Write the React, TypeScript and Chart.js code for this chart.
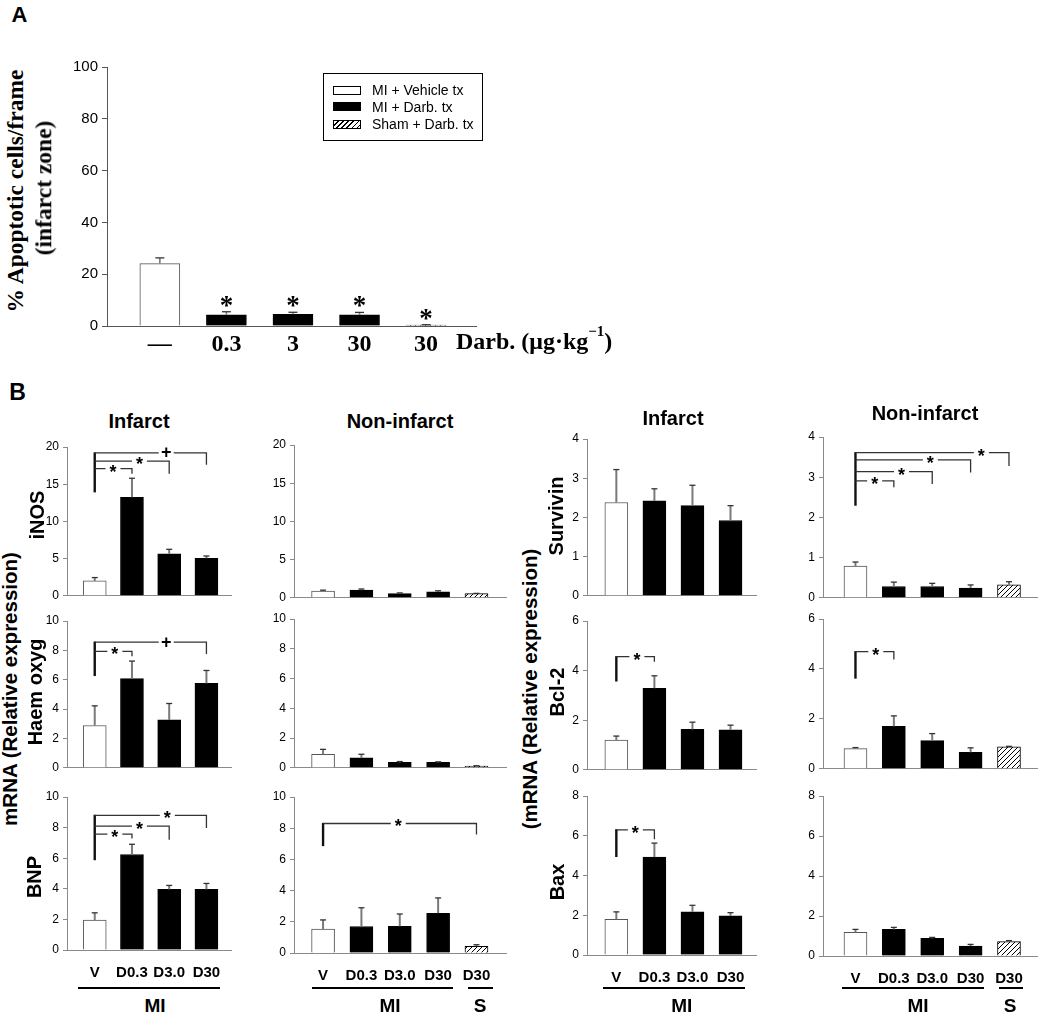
import React, { useEffect, useRef } from 'react';
import { Chart, registerables } from 'chart.js';
Chart.register(...registerables);

const SANS = '"Liberation Sans", Arial, sans-serif';
const SERIF = '"Liberation Serif", "Times New Roman", serif';

type Kind = 'V' | 'D' | 'S';
type Bracket = { to: number; y: number; drop: number; label: string; at: number };

// ---------------- Panel A data ----------------
const aTickLabels = ['\u2014', '0.3', '3', '30', '30'];
const aValues = [24.1, 4.35, 4.5, 4.35, 0.4];
const aErrors = [2.2, 1.15, 0.8, 0.9, 0.1];
const aKinds: Kind[] = ['V', 'D', 'D', 'D', 'S'];
const aStars = ['', '*', '*', '*', '*'];
const aLegend = ['MI + Vehicle tx', 'MI + Darb. tx', 'Sham + Darb. tx'];

// ---------------- Panel B data ----------------
const catsMI = ['V', 'D0.3', 'D3.0', 'D30'];
const catsAll = ['V', 'D0.3', 'D3.0', 'D30', 'D30'];
const kinds4: Kind[] = ['V', 'D', 'D', 'D'];
const kinds5: Kind[] = ['V', 'D', 'D', 'D', 'S'];

const inosInf = [2.0, 13.25, 5.65, 5.05];
const inosInfErr = [0.45, 2.55, 0.6, 0.3];
const inosNon = [0.88, 1.0, 0.55, 0.77, 0.55];
const inosNonErr = [0.12, 0.15, 0.09, 0.15, 0.03];
const haemInf = [2.88, 6.07, 3.26, 5.75];
const haemInfErr = [1.34, 1.2, 1.12, 0.88];
const haemNon = [0.91, 0.67, 0.36, 0.36, 0.11];
const haemNonErr = [0.33, 0.24, 0.06, 0.04, 0.03];
const bnpInf = [1.96, 6.24, 3.96, 3.96];
const bnpInfErr = [0.47, 0.67, 0.26, 0.39];
const bnpNon = [1.54, 1.7, 1.71, 2.55, 0.43];
const bnpNonErr = [0.58, 1.2, 0.79, 0.98, 0.1];
const survInf = [2.38, 2.42, 2.3, 1.92];
const survInfErr = [0.84, 0.31, 0.52, 0.38];
const survNon = [0.79, 0.28, 0.28, 0.24, 0.32];
const survNonErr = [0.1, 0.11, 0.08, 0.08, 0.08];
const bclInf = [1.2, 3.29, 1.63, 1.61];
const bclInfErr = [0.16, 0.5, 0.29, 0.19];
const bclNon = [0.81, 1.7, 1.13, 0.66, 0.88];
const bclNonErr = [0.04, 0.42, 0.28, 0.18, 0.02];
const baxInf = [1.8, 4.93, 2.17, 1.97];
const baxInfErr = [0.37, 0.7, 0.33, 0.16];
const baxNon = [1.18, 1.33, 0.88, 0.5, 0.72];
const baxNonErr = [0.15, 0.1, 0.05, 0.08, 0.05];

// significance brackets (from V bar)
const inosInfBase = 13.9;
const inosInfBr: Bracket[] = [
  { to: 1, y: 17.1, drop: 16.4, label: '*', at: 0.49 },
  { to: 2, y: 18.1, drop: 16.4, label: '*', at: 0.6 },
  { to: 3, y: 19.2, drop: 17.6, label: '+', at: 0.64 },
];
const haemInfBase = 6.25;
const haemInfBr: Bracket[] = [
  { to: 1, y: 7.93, drop: 7.6, label: '*', at: 0.54 },
  { to: 3, y: 8.56, drop: 7.75, label: '+', at: 0.64 },
];
const bnpInfBase = 5.87;
const bnpInfBr: Bracket[] = [
  { to: 1, y: 7.57, drop: 7.28, label: '*', at: 0.54 },
  { to: 2, y: 8.09, drop: 7.2, label: '*', at: 0.6 },
  { to: 3, y: 8.8, drop: 7.98, label: '*', at: 0.65 },
];
const bnpNonBase = 6.85;
const bnpNonBr: Bracket[] = [{ to: 4, y: 8.3, drop: 7.6, label: '*', at: 0.49 }];
const survNonBase = 2.29;
const survNonBr: Bracket[] = [
  { to: 1, y: 2.91, drop: 2.75, label: '*', at: 0.5 },
  { to: 2, y: 3.14, drop: 2.83, label: '*', at: 0.6 },
  { to: 3, y: 3.43, drop: 3.12, label: '*', at: 0.65 },
  { to: 4, y: 3.61, drop: 3.28, label: '*', at: 0.82 },
];
const bclInfBase = 3.56;
const bclInfBr: Bracket[] = [{ to: 1, y: 4.56, drop: 4.36, label: '*', at: 0.54 }];
const bclNonBase = 3.61;
const bclNonBr: Bracket[] = [{ to: 1, y: 4.69, drop: 4.38, label: '*', at: 0.53 }];
const baxInfBase = 4.93;
const baxInfBr: Bracket[] = [{ to: 1, y: 6.3, drop: 5.83, label: '*', at: 0.5 }];

interface PanelCfg {
  variant: 'A' | 'B';
  left: number; right: number; top: number; bottom: number;
  xMin: number; xMax: number; yMax: number; yStep: number;
  values: number[]; errors: number[]; kinds: Kind[];
  xLabels?: string[];
  base?: number; brackets?: Bracket[];
  stars?: string[];
  barWidth: number;
}

function makeHatch(ctx: CanvasRenderingContext2D) {
  const s = 5;
  const c = document.createElement('canvas');
  c.width = s; c.height = s;
  const g = c.getContext('2d')!;
  g.fillStyle = '#fff';
  g.fillRect(0, 0, s, s);
  g.strokeStyle = '#000';
  g.lineWidth = 1;
  g.beginPath();
  g.moveTo(0, s); g.lineTo(s, 0);
  g.moveTo(-1, 1); g.lineTo(1, -1);
  g.moveTo(s - 1, s + 1); g.lineTo(s + 1, s - 1);
  g.stroke();
  return ctx.createPattern(c, 'repeat')!;
}

function makeOverlay(cfg: PanelCfg) {
  return {
    id: 'overlay',
    afterDatasetsDraw(chart: any) {
      const ctx: CanvasRenderingContext2D = chart.ctx;
      const xs = chart.scales.x, ys = chart.scales.y;
      const meta = chart.getDatasetMeta(0);
      const cap = cfg.variant === 'A' ? 4.5 : 3;
      ctx.save();
      meta.data.forEach((bar: any, i: number) => {
        const e = cfg.errors[i] || 0;
        const x = bar.x;
        const yTop = ys.getPixelForValue(cfg.values[i] + e);
        if (e > 0) {
          const y0 = ys.getPixelForValue(cfg.values[i]);
          ctx.strokeStyle = '#7a7a7a';
          ctx.lineWidth = cfg.variant === 'A' ? 1.6 : 2;
          ctx.beginPath(); ctx.moveTo(x, y0); ctx.lineTo(x, yTop); ctx.stroke();
          ctx.strokeStyle = '#333';
          ctx.lineWidth = 1.3;
          ctx.beginPath(); ctx.moveTo(x - cap, yTop); ctx.lineTo(x + cap, yTop); ctx.stroke();
        }
        if (cfg.stars && cfg.stars[i]) {
          ctx.fillStyle = '#000';
          ctx.font = `bold 27px ${SERIF}`;
          ctx.textAlign = 'center';
          ctx.textBaseline = 'middle';
          ctx.fillText(cfg.stars[i], x, yTop - 5);
        }
      });
      if (cfg.brackets && cfg.brackets.length) {
        const x0 = xs.getPixelForValue(0);
        const topVal = Math.max(...cfg.brackets.map((b) => b.y));
        ctx.strokeStyle = '#111';
        ctx.lineWidth = 2.4;
        ctx.beginPath();
        ctx.moveTo(x0, ys.getPixelForValue(cfg.base || 0));
        ctx.lineTo(x0, ys.getPixelForValue(topVal) - 0.6);
        ctx.stroke();
        cfg.brackets.forEach((b) => {
          const x1 = xs.getPixelForValue(b.to);
          const y = ys.getPixelForValue(b.y);
          const yd = ys.getPixelForValue(b.drop);
          const lx = x0 + (x1 - x0) * b.at;
          const gap = 7.5;
          ctx.strokeStyle = '#333';
          ctx.lineWidth = 1.3;
          ctx.beginPath();
          ctx.moveTo(x0, y); ctx.lineTo(lx - gap, y);
          ctx.moveTo(lx + gap, y); ctx.lineTo(x1, y); ctx.lineTo(x1, yd);
          ctx.stroke();
          ctx.fillStyle = '#000';
          ctx.font = `bold 18px ${SANS}`;
          ctx.textAlign = 'center';
          ctx.textBaseline = 'middle';
          ctx.fillText(b.label, lx, b.label === '*' ? y + 4 : y + 0.5);
        });
      }
      ctx.restore();
    },
  };
}

function BarPanel({ cfg }: { cfg: PanelCfg }) {
  const ref = useRef<HTMLCanvasElement>(null);
  const isA = cfg.variant === 'A';
  const YW = isA ? 60 : 45;
  const PT = 12;
  const PR = 10;
  const XH = cfg.xLabels ? (isA ? 40 : 36) : 10;
  const w = Math.round(YW + (cfg.right - cfg.left) + PR);
  const h = Math.round(PT + (cfg.bottom - cfg.top) + XH);
  useEffect(() => {
    const canvas = ref.current!;
    const ctx = canvas.getContext('2d')!;
    const hatch = makeHatch(ctx);
    const bg = cfg.kinds.map((k) => (k === 'V' ? '#ffffff' : k === 'D' ? '#000000' : hatch));
    const border = cfg.kinds.map((k) => (k === 'V' ? '#555555' : '#000000'));
    const axisColor = isA ? '#555' : '#8a8a8a';
    const chart = new Chart(canvas, {
      type: 'bar',
      data: {
        datasets: [
          {
            data: cfg.values.map((v, i) => ({ x: i, y: v })),
            backgroundColor: bg as any,
            borderColor: border,
            borderWidth: 1,
            barThickness: cfg.barWidth,
          },
        ],
      },
      options: {
        animation: false,
        responsive: false,
        devicePixelRatio: 1,
        layout: { padding: { top: PT, right: PR, left: 0, bottom: 0 } },
        plugins: { legend: { display: false }, tooltip: { enabled: false } },
        scales: {
          x: {
            type: 'linear',
            min: cfg.xMin,
            max: cfg.xMax,
            offset: false,
            grid: { display: false, drawTicks: false },
            border: { display: true, color: axisColor, width: 1 },
            afterBuildTicks: (s: any) => {
              s.ticks = cfg.values.map((_, i) => ({ value: i }));
            },
            afterFit: (s: any) => {
              s.height = XH;
            },
            ticks: {
              display: !!cfg.xLabels,
              autoSkip: false,
              maxRotation: 0,
              minRotation: 0,
              padding: isA ? 4 : 14,
              color: '#000',
              font: isA
                ? { family: SERIF, size: 24, weight: 'bold' }
                : { family: SANS, size: 15, weight: 'bold' },
              callback: (_v: any, i: number) => (cfg.xLabels ? cfg.xLabels[i] : ''),
            },
          },
          y: {
            min: 0,
            max: cfg.yMax,
            grid: { drawOnChartArea: false, drawTicks: true, tickLength: isA ? 5 : 4, color: axisColor },
            border: { display: true, color: axisColor, width: 1 },
            afterFit: (s: any) => {
              s.width = YW;
            },
            ticks: {
              stepSize: cfg.yStep,
              padding: 4,
              color: '#000',
              font: { family: SANS, size: isA ? 15 : 12 },
            },
          },
        },
      } as any,
      plugins: [makeOverlay(cfg) as any],
    });
    return () => chart.destroy();
  }, []);
  return (
    <canvas
      ref={ref}
      width={w}
      height={h}
      style={{ position: 'absolute', left: cfg.left - YW, top: cfg.top - PT, width: w, height: h }}
    />
  );
}

function T({ x, y, text, size, bold = true, family = SANS, rotate = false, align = 'center' }: any) {
  const tx = align === 'left' ? '0' : '-50%';
  return (
    <div
      style={{
        position: 'absolute',
        left: x,
        top: y,
        transform: `translate(${tx}, -50%)${rotate ? ' rotate(-90deg)' : ''}`,
        fontFamily: family,
        fontSize: size,
        fontWeight: bold ? 'bold' : 'normal',
        lineHeight: 1,
        whiteSpace: 'nowrap',
        color: '#000',
      }}
    >
      {text}
    </div>
  );
}

function Line({ x1, x2, y }: { x1: number; x2: number; y: number }) {
  return <div style={{ position: 'absolute', left: x1, top: y - 1, width: x2 - x1, height: 2, background: '#000' }} />;
}

const C1 = { left: 66.7, right: 231, xMin: -0.745, xMax: 3.66 };
const C2 = { left: 294, right: 505.5, xMin: -0.758, xMax: 4.77 };
const C3 = { left: 586.7, right: 755.5, xMin: -0.771, xMax: 3.67 };
const C4 = { left: 822.5, right: 1036.5, xMin: -0.846, xMax: 4.73 };

const panelA: PanelCfg = {
  variant: 'A', left: 107.2, right: 476, top: 65.7, bottom: 326,
  xMin: -0.794, xMax: 4.75, yMax: 100, yStep: 20,
  values: aValues, errors: aErrors, kinds: aKinds, xLabels: aTickLabels, stars: aStars, barWidth: 40,
};

const panelsB: PanelCfg[] = [
  { variant: 'B', ...C1, top: 446.7, bottom: 596.7, yMax: 20, yStep: 5, values: inosInf, errors: inosInfErr, kinds: kinds4, base: inosInfBase, brackets: inosInfBr, barWidth: 23 },
  { variant: 'B', ...C1, top: 621, bottom: 769.3, yMax: 10, yStep: 2, values: haemInf, errors: haemInfErr, kinds: kinds4, base: haemInfBase, brackets: haemInfBr, barWidth: 23 },
  { variant: 'B', ...C1, top: 796.7, bottom: 950, yMax: 10, yStep: 2, values: bnpInf, errors: bnpInfErr, kinds: kinds4, base: bnpInfBase, brackets: bnpInfBr, xLabels: catsMI, barWidth: 23 },
  { variant: 'B', ...C2, top: 445, bottom: 599, yMax: 20, yStep: 5, values: inosNon, errors: inosNonErr, kinds: kinds5, barWidth: 23 },
  { variant: 'B', ...C2, top: 619.3, bottom: 769.3, yMax: 10, yStep: 2, values: haemNon, errors: haemNonErr, kinds: kinds5, barWidth: 23 },
  { variant: 'B', ...C2, top: 796.7, bottom: 952.3, yMax: 10, yStep: 2, values: bnpNon, errors: bnpNonErr, kinds: kinds5, base: bnpNonBase, brackets: bnpNonBr, xLabels: catsAll, barWidth: 23 },
  { variant: 'B', ...C3, top: 439.3, bottom: 597.3, yMax: 4, yStep: 1, values: survInf, errors: survInfErr, kinds: kinds4, barWidth: 23 },
  { variant: 'B', ...C3, top: 620.7, bottom: 770.7, yMax: 6, yStep: 2, values: bclInf, errors: bclInfErr, kinds: kinds4, base: bclInfBase, brackets: bclInfBr, barWidth: 23 },
  { variant: 'B', ...C3, top: 796, bottom: 955, yMax: 8, yStep: 2, values: baxInf, errors: baxInfErr, kinds: kinds4, base: baxInfBase, brackets: baxInfBr, xLabels: catsMI, barWidth: 23 },
  { variant: 'B', ...C4, top: 436.7, bottom: 598.3, yMax: 4, yStep: 1, values: survNon, errors: survNonErr, kinds: kinds5, base: survNonBase, brackets: survNonBr, barWidth: 23 },
  { variant: 'B', ...C4, top: 619.3, bottom: 770, yMax: 6, yStep: 2, values: bclNon, errors: bclNonErr, kinds: kinds5, base: bclNonBase, brackets: bclNonBr, barWidth: 23 },
  { variant: 'B', ...C4, top: 796, bottom: 956, yMax: 8, yStep: 2, values: baxNon, errors: baxNonErr, kinds: kinds5, xLabels: catsAll, barWidth: 23 },
];

function Legend() {
  const sw = [
    { background: '#fff', border: '1px solid #000' },
    { background: '#000', border: '1px solid #000' },
    {
      background: 'repeating-linear-gradient(135deg, #fff 0px, #fff 2.6px, #000 2.6px, #000 3.6px)',
      border: '1px solid #000',
    },
  ];
  const tops = [85.7, 101.7, 119.5];
  const centers = [90.3, 107.3, 124.3];
  return (
    <>
      <div style={{ position: 'absolute', left: 323, top: 73, width: 160, height: 68, border: '1px solid #000', boxSizing: 'border-box' }} />
      {aLegend.map((t, i) => (
        <React.Fragment key={t}>
          <div style={{ position: 'absolute', left: 333, top: tops[i], width: 28, height: 9.5, boxSizing: 'border-box', ...sw[i] }} />
          <T x={372} y={centers[i]} text={t} size={14} bold={false} align="left" />
        </React.Fragment>
      ))}
    </>
  );
}

export default function App() {
  return (
    <div style={{ position: 'absolute', left: 0, top: 0, width: 1039, height: 1017, background: '#fff', overflow: 'hidden' }}>
      <T x={19.5} y={15} text="A" size={22} />
      <T x={17.5} y={391.5} text="B" size={23} />

      <BarPanel cfg={panelA} />
      <Legend />
      <T x={16} y={191} text="% Apoptotic cells/frame" size={23.5} family={SERIF} rotate />
      <T x={44} y={188} text="(infarct zone)" size={23.5} family={SERIF} rotate />
      <div
        style={{
          position: 'absolute', left: 456, top: 341, transform: 'translate(0,-50%)',
          fontFamily: SERIF, fontWeight: 'bold', fontSize: 24, lineHeight: 1, whiteSpace: 'nowrap',
        }}
      >
        Darb. (μg·kg<sup style={{ fontSize: 15, verticalAlign: 'top', position: 'relative', top: -5 }}>−1</sup>)
      </div>

      {panelsB.map((p, i) => (
        <BarPanel key={i} cfg={p} />
      ))}

      <T x={139} y={421} text="Infarct" size={20} />
      <T x={400} y={421} text="Non-infarct" size={20} />
      <T x={673} y={418} text="Infarct" size={20} />
      <T x={925} y={413} text="Non-infarct" size={20} />

      <T x={9.5} y={689} text="mRNA (Relative expression)" size={20.5} rotate />
      <T x={36.5} y={515} text="iNOS" size={20} rotate />
      <T x={34.5} y={692} text="Haem oxyg" size={20} rotate />
      <T x={33.5} y={877} text="BNP" size={20} rotate />

      <T x={529.5} y={689} text="(mRNA (Relative expression)" size={20.5} rotate />
      <T x={555.5} y={516} text="Survivin" size={20} rotate />
      <T x={556.5} y={692} text="Bcl-2" size={20} rotate />
      <T x={557} y={882} text="Bax" size={20} rotate />

      <Line x1={78} x2={220} y={987.7} />
      <T x={155} y={1005} text="MI" size={19} />
      <Line x1={311.7} x2={453} y={987.7} />
      <Line x1={467.7} x2={492.7} y={987.7} />
      <T x={390} y={1005} text="MI" size={19} />
      <T x={480} y={1005} text="S" size={19} />
      <Line x1={602.7} x2={745} y={988} />
      <T x={681.7} y={1005} text="MI" size={19} />
      <Line x1={841.7} x2={984} y={988} />
      <Line x1={999} x2={1023} y={988} />
      <T x={918} y={1005} text="MI" size={19} />
      <T x={1010} y={1005} text="S" size={19} />
    </div>
  );
}
